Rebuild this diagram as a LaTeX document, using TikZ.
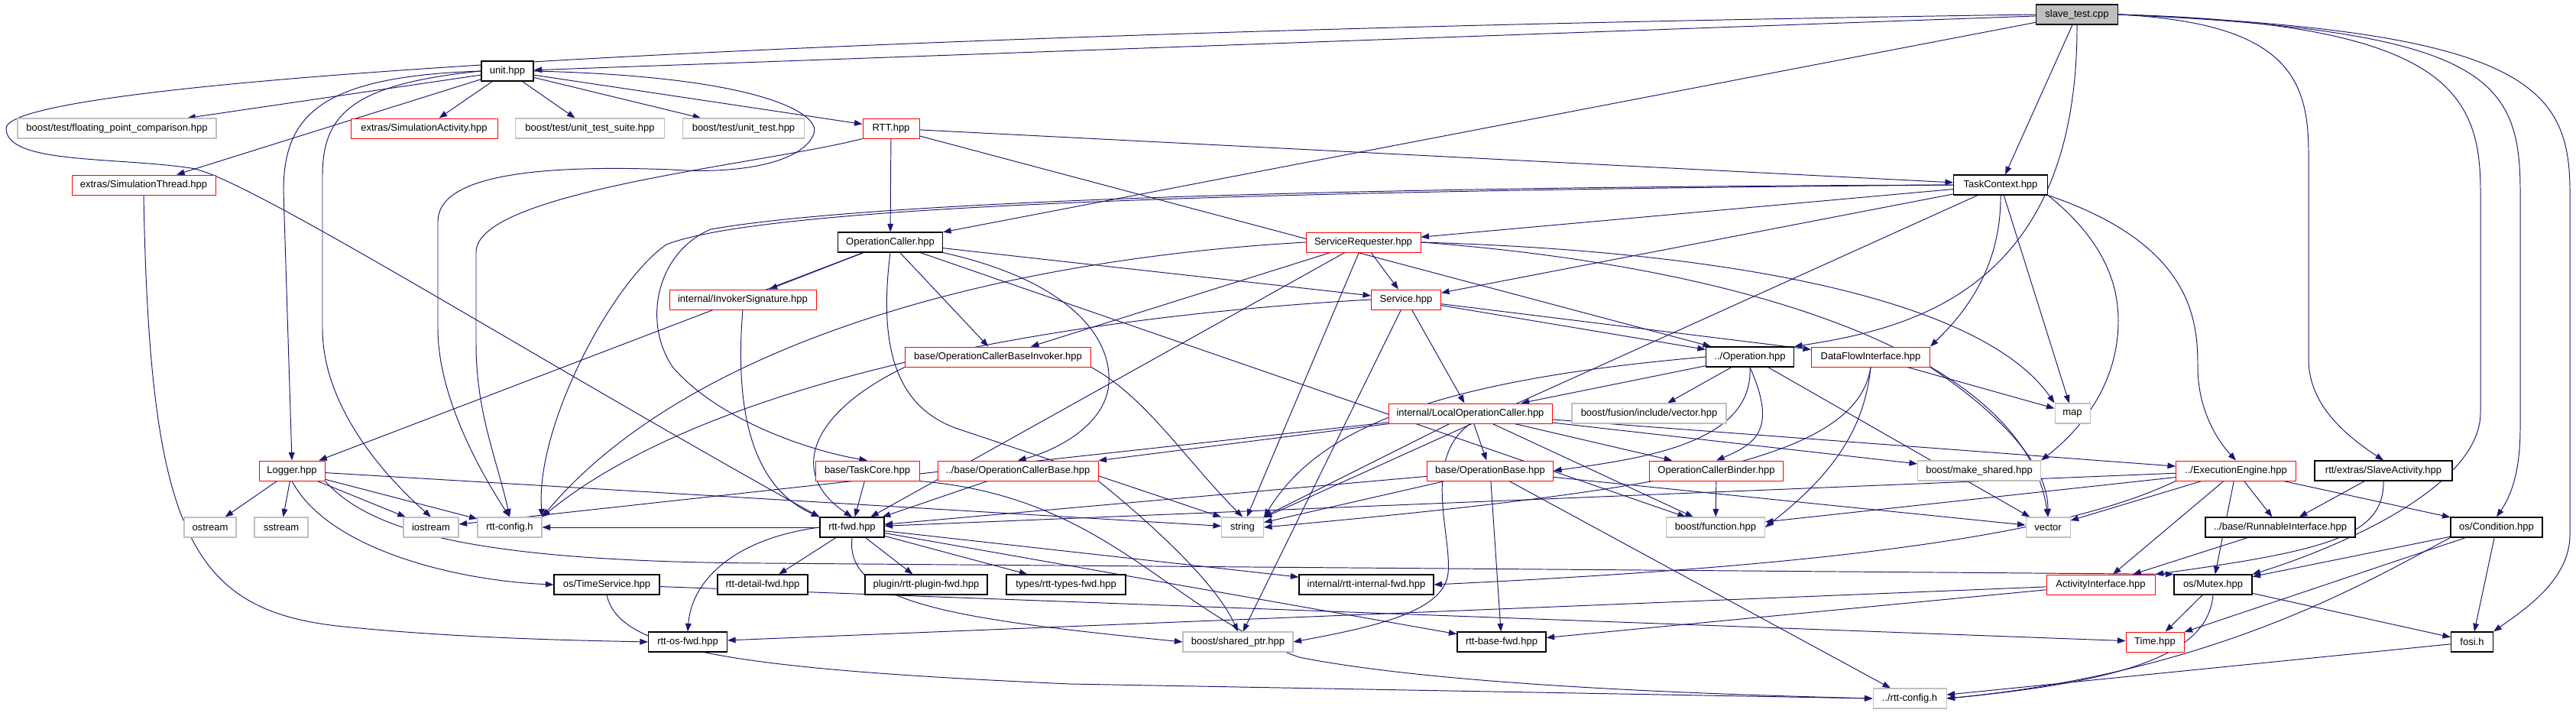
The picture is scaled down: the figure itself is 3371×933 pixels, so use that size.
\documentclass[tikz,border=0pt]{standalone}
\usepackage{fontspec}
\setmainfont{Liberation Sans}
\usetikzlibrary{arrows.meta}
\definecolor{edgeblue}{RGB}{25,25,112}
\definecolor{extgray}{RGB}{191,191,191}
\pgfdeclarelayer{edges}
\pgfsetlayers{edges,main}
\begin{document}
\begin{tikzpicture}[x=0.02cm,y=-0.02cm,
  >={Triangle[length=6pt,width=4.4pt]},
  file/.style={rectangle,fill=white,minimum height=0.52cm,inner xsep=2pt,inner ysep=0pt,
    font=\fontsize{7.4}{8}\selectfont},
  wd/.style={minimum width=#1*0.02cm},
  linked/.style={file,draw=black,line width=0.65pt},
  truncated/.style={file,draw=red,line width=0.55pt},
  external/.style={file,draw=extgray,line width=0.6pt},
  root/.style={file,draw=black,fill=extgray,line width=0.65pt},
  dep/.style={->,draw=edgeblue,line width=0.55pt}]
\useasboundingbox (0,0) rectangle (3371,933);

% The file itself
\node[root,wd=107] (slave) at (2718,19) {slave\_test.cpp};

% Included files, row by row
\node[linked,wd=68] (unit) at (664,93) {unit.hpp};

\node[external,wd=260] (floating) at (153,168) {boost/test/floating\_point\_comparison.hpp};
\node[truncated,wd=192] (simact) at (555,168) {extras/SimulationActivity.hpp};
\node[external,wd=195] (suite) at (772,168) {boost/test/unit\_test\_suite.hpp};
\node[external,wd=159] (unittest) at (973,168) {boost/test/unit\_test.hpp};
\node[truncated,wd=74] (rtt) at (1166,168) {RTT.hpp};

\node[truncated,wd=188] (simthread) at (188,242) {extras/SimulationThread.hpp};
\node[linked,wd=123] (taskcontext) at (2618,242) {TaskContext.hpp};

\node[linked,wd=137] (opcaller) at (1165,317) {OperationCaller.hpp};
\node[truncated,wd=150] (servreq) at (1784,317) {ServiceRequester.hpp};

\node[truncated,wd=192] (invsig) at (972,392) {internal/InvokerSignature.hpp};
\node[truncated,wd=91] (service) at (1840,392) {Service.hpp};

\node[truncated,wd=243] (ocbinvoker) at (1306,467) {base/OperationCallerBaseInvoker.hpp};
\node[linked,wd=115] (operation) at (2290,467) {../Operation.hpp};
\node[truncated,wd=155] (dataflow) at (2448,467) {DataFlowInterface.hpp};

\node[truncated,wd=214] (localoc) at (1924,541) {internal/LocalOperationCaller.hpp};
\node[external,wd=202] (fusion) at (2158,541) {boost/fusion/include/vector.hpp};
\node[external,wd=46] (map) at (2712,541) {map};

\node[truncated,wd=86] (logger) at (382,616) {Logger.hpp};
\node[truncated,wd=136] (taskcore) at (1135,616) {base/TaskCore.hpp};
\node[truncated,wd=210] (ocbase) at (1332,616) {../base/OperationCallerBase.hpp};
\node[truncated,wd=165] (opbase) at (1950,616) {base/OperationBase.hpp};
\node[truncated,wd=175] (ocbinder) at (2246,616) {OperationCallerBinder.hpp};
\node[external,wd=161] (makeshared) at (2590,616) {boost/make\_shared.hpp};
\node[truncated,wd=157] (execengine) at (2926,616) {../ExecutionEngine.hpp};
\node[linked,wd=180] (slaveact) at (3119,616) {rtt/extras/SlaveActivity.hpp};

\node[external,wd=68] (ostream) at (275,690) {ostream};
\node[external,wd=70] (sstream) at (368,690) {sstream};
\node[external,wd=72] (iostream) at (564,690) {iostream};
\node[external,wd=84] (rttconfig) at (667,690) {rtt-config.h};
\node[linked,wd=84] (rttfwd) at (1115,690) {rtt-fwd.hpp};
\node[external,wd=55] (string) at (1626,690) {string};
\node[external,wd=129] (function) at (2245,690) {boost/function.hpp};
\node[external,wd=58] (vector) at (2680,690) {vector};
\node[linked,wd=196] (runnable) at (2984,690) {../base/RunnableInterface.hpp};
\node[linked,wd=120] (condition) at (3267,690) {os/Condition.hpp};

\node[linked,wd=138] (timeservice) at (794,765) {os/TimeService.hpp};
\node[linked,wd=118] (detailfwd) at (998,765) {rtt-detail-fwd.hpp};
\node[linked,wd=160] (pluginfwd) at (1212,765) {plugin/rtt-plugin-fwd.hpp};
\node[linked,wd=156] (typesfwd) at (1395,765) {types/rtt-types-fwd.hpp};
\node[linked,wd=176] (internalfwd) at (1788,765) {internal/rtt-internal-fwd.hpp};
\node[truncated,wd=142] (activity) at (2749,765) {ActivityInterface.hpp};
\node[linked,wd=102] (mutex) at (2896,765) {os/Mutex.hpp};

\node[linked,wd=103] (osfwd) at (900,840) {rtt-os-fwd.hpp};
\node[external,wd=144] (sharedptr) at (1620,840) {boost/shared\_ptr.hpp};
\node[linked,wd=116] (basefwd) at (1965,840) {rtt-base-fwd.hpp};
\node[truncated,wd=76] (time) at (2820,840) {Time.hpp};
\node[linked,wd=55] (fosi) at (3235,840) {fosi.h};

\node[external,wd=96] (rttconfigup) at (2499,914) {../rtt-config.h};

\begin{pgfonlayer}{edges}
% slave_test.cpp
\draw[dep] (slave) -- (unit);
\draw[dep] (slave) -- (taskcontext);
\draw[dep] (slave) -- (opcaller);
\draw[dep] (slave.south) .. controls (2719,380) and (2500,430) .. (operation.north east);
\draw[dep] (slave.west) .. controls (1200,40) and (8,100) .. (8,168)
  .. controls (8,215) and (150,205) .. (250,220)
  .. controls (320,230) and (700,470) .. (rttfwd.north west);
\draw[dep] (slave.east) .. controls (2990,30) and (3021,100) .. (3021,200) -- (3021,470)
  .. controls (3021,530) and (3070,570) .. (slaveact.north);
\draw[dep] (slave.east) .. controls (3200,30) and (3246,120) .. (3246,250) -- (3246,540)
  .. controls (3246,640) and (3050,720) .. (mutex.north east);
\draw[dep] (slave.east) .. controls (3250,40) and (3298,100) .. (3298,250) -- (3298,560)
  .. controls (3298,620) and (3285,650) .. (condition.north);
\draw[dep] (slave.east) .. controls (3300,40) and (3363,110) .. (3363,250) -- (3363,700)
  .. controls (3363,760) and (3300,800) .. (fosi.north east);

% unit.hpp
\draw[dep] (unit) -- (floating);
\draw[dep] (unit) -- (simact);
\draw[dep] (unit) -- (suite);
\draw[dep] (unit) -- (unittest);
\draw[dep] (unit) -- (rtt);
\draw[dep] (unit) -- (simthread);
\draw[dep] (unit.west) .. controls (420,100) and (371,150) .. (371,250) -- (logger.north);
\draw[dep] (unit.west) .. controls (460,110) and (422,150) .. (422,230) -- (422,430)
  .. controls (422,530) and (500,620) .. (iostream.north);
\draw[dep] (unit.east) .. controls (1000,100) and (1075,150) .. (1065,175)
  .. controls (1050,215) and (960,228) .. (880,222)
  .. controls (700,215) and (573,230) .. (573,290) -- (573,430)
  .. controls (573,520) and (630,620) .. (rttconfig.north);

% RTT.hpp
\draw[dep] (rtt) -- (opcaller);
\draw[dep] (rtt) -- (taskcontext);
\draw[dep] (rtt) -- (operation);
\draw[dep] (rtt.south west) .. controls (1000,215) and (623,250) .. (623,330) -- (623,450)
  .. controls (623,540) and (650,600) .. (rttconfig.north);

% TaskContext.hpp
\draw[dep] (taskcontext) -- (servreq);
\draw[dep] (taskcontext) -- (service);
\draw[dep] (taskcontext) -- (map);
\draw[dep] (taskcontext) -- (string);
\draw[dep] (taskcontext.south) .. controls (2619,360) and (2560,420) .. (dataflow.north east);
\draw[dep] (taskcontext.south east) .. controls (2870,320) and (2876,420) .. (2876,480)
  .. controls (2876,540) and (2905,580) .. (execengine.north);
\draw[dep] (taskcontext.south east) .. controls (2760,320) and (2772,380) .. (2772,420)
  .. controls (2772,520) and (2700,580) .. (makeshared.north east);
\draw[dep] (taskcontext.west) .. controls (1600,245) and (1100,270) .. (930,300)
  .. controls (860,330) and (840,420) .. (880,480)
  .. controls (940,550) and (1060,590) .. (taskcore.north);
\draw[dep] (taskcontext.west) .. controls (1600,250) and (1000,270) .. (872,320)
  .. controls (800,370) and (700,560) .. (rttconfig.north east);

% OperationCaller.hpp
\draw[dep] (opcaller) -- (invsig);
\draw[dep] (opcaller) -- (ocbinvoker);
\draw[dep] (opcaller) -- (service);
\draw[dep] (opcaller) -- (logger);
\draw[dep] (opcaller) -- (function);
\draw[dep] (opcaller.south east) .. controls (1410,370) and (1460,450) .. (1450,510)
  .. controls (1440,560) and (1380,590) .. (ocbase.north);
\draw[dep] (opcaller.south) .. controls (1150,450) and (1170,530) .. (1250,560) -- (string.north west);

% ServiceRequester.hpp
\draw[dep] (servreq) -- (service);
\draw[dep] (servreq) -- (ocbinvoker);
\draw[dep] (servreq) -- (string);
\draw[dep] (servreq) -- (rttfwd);
\draw[dep] (servreq.east) .. controls (2300,330) and (2600,400) .. (map.north west);
\draw[dep] (servreq.east) .. controls (2300,350) and (2650,470) .. (vector.north);
\draw[dep] (servreq.west) .. controls (1300,340) and (900,450) .. (rttconfig.north east);

% Service.hpp
\draw[dep] (service) -- (operation);
\draw[dep] (service) -- (dataflow);
\draw[dep] (service) -- (localoc);
\draw[dep] (service) -- (sharedptr);
\draw[dep] (service.west) .. controls (1300,420) and (900,520) .. (rttconfig.north east);

% InvokerSignature.hpp and OperationCallerBaseInvoker.hpp
\draw[dep] (invsig.south) .. controls (960,550) and (990,640) .. (rttfwd.north west);
\draw[dep] (ocbinvoker.south west) .. controls (1060,540) and (1030,620) .. (rttfwd.north);
\draw[dep] (ocbinvoker.south east) .. controls (1500,520) and (1550,600) .. (string.north);

% Operation.hpp
\draw[dep] (operation) -- (localoc);
\draw[dep] (operation) -- (fusion);
\draw[dep] (operation) -- (vector);
\draw[dep] (operation.west) .. controls (1850,500) and (1720,570) .. (string.north east);
\draw[dep] (operation.south) .. controls (2295,580) and (2150,600) .. (opbase.east);
\draw[dep] (operation.south) .. controls (2325,560) and (2300,580) .. (ocbinder.north);

% DataFlowInterface.hpp
\draw[dep] (dataflow) -- (map);
\draw[dep] (dataflow.south east) .. controls (2600,530) and (2680,600) .. (vector.north);
\draw[dep] (dataflow.south) .. controls (2430,600) and (2200,640) .. (string.east);
\draw[dep] (dataflow.south) .. controls (2440,560) and (2400,620) .. (function.east);

% LocalOperationCaller.hpp
\draw[dep] (localoc) -- (opbase);
\draw[dep] (localoc) -- (ocbinder);
\draw[dep] (localoc) -- (ocbase);
\draw[dep] (localoc) -- (makeshared);
\draw[dep] (localoc) -- (execengine);
\draw[dep] (localoc) -- (iostream);
\draw[dep] (localoc) -- (string);
\draw[dep] (localoc) -- (function);
\draw[dep] (localoc.south) .. controls (1860,600) and (1900,700) .. (1895,750)
  .. controls (1890,800) and (1800,820) .. (sharedptr.east);

% base headers
\draw[dep] (taskcore) -- (rttfwd);
\draw[dep] (taskcore.south east) .. controls (1450,650) and (1530,800) .. (1700,860)
  .. controls (1900,900) and (2300,910) .. (rttconfigup.west);
\draw[dep] (ocbase) -- (rttfwd);
\draw[dep] (ocbase.south east) .. controls (1500,680) and (1590,760) .. (sharedptr.north);
\draw[dep] (opbase) -- (rttfwd);
\draw[dep] (opbase) -- (string);
\draw[dep] (opbase) -- (basefwd);
\draw[dep] (opbase) -- (rttconfigup);
\draw[dep] (opbase) -- (vector);
\draw[dep] (ocbinder) -- (function);

% ExecutionEngine.hpp and activities
\draw[dep] (execengine) -- (activity);
\draw[dep] (execengine) -- (mutex);
\draw[dep] (execengine) -- (runnable);
\draw[dep] (execengine) -- (condition);
\draw[dep] (execengine) -- (vector);
\draw[dep] (execengine) -- (function);
\draw[dep] (execengine) -- (rttfwd);
\draw[dep] (execengine.south west) .. controls (2700,700) and (2400,740) .. (internalfwd.east);
\draw[dep] (slaveact) -- (runnable);
\draw[dep] (slaveact.south) .. controls (3120,700) and (3050,720) .. (activity.north east);
\draw[dep] (runnable) -- (activity);
\draw[dep] (activity) -- (basefwd);
\draw[dep] (activity) -- (osfwd);

% os headers
\draw[dep] (condition) -- (mutex);
\draw[dep] (condition) -- (time);
\draw[dep] (condition) -- (fosi);
\draw[dep] (condition.south west) .. controls (3100,760) and (2900,880) .. (rttconfigup.east);
\draw[dep] (mutex) -- (time);
\draw[dep] (mutex) -- (fosi);
\draw[dep] (mutex.south) .. controls (2890,850) and (2800,890) .. (rttconfigup.east);
\draw[dep] (fosi) -- (rttconfigup);
\draw[dep] (timeservice) -- (time);
\draw[dep] (timeservice.south) .. controls (810,850) and (950,875) .. (1400,895) -- (rttconfigup.west);

% Logger.hpp
\draw[dep] (logger) -- (ostream);
\draw[dep] (logger) -- (sstream);
\draw[dep] (logger) -- (iostream);
\draw[dep] (logger) -- (rttconfig);
\draw[dep] (logger) -- (string);
\draw[dep] (logger.south) .. controls (430,720) and (600,760) .. (timeservice.west);
\draw[dep] (logger.south east) .. controls (480,690) and (600,735) .. (1000,737) -- (mutex.north west);

% SimulationThread.hpp
\draw[dep] (simthread.south) .. controls (196,700) and (250,800) .. (450,820)
  .. controls (600,835) and (750,838) .. (osfwd.west);

% rtt-fwd.hpp
\draw[dep] (rttfwd) -- (rttconfig);
\draw[dep] (rttfwd) -- (detailfwd);
\draw[dep] (rttfwd) -- (pluginfwd);
\draw[dep] (rttfwd) -- (typesfwd);
\draw[dep] (rttfwd) -- (internalfwd);
\draw[dep] (rttfwd) -- (basefwd);
\draw[dep] (rttfwd.west) .. controls (960,705) and (905,760) .. (osfwd.north);
\draw[dep] (rttfwd.south) .. controls (1105,790) and (1250,810) .. (sharedptr.west);
\end{pgfonlayer}
\end{tikzpicture}
\end{document}
